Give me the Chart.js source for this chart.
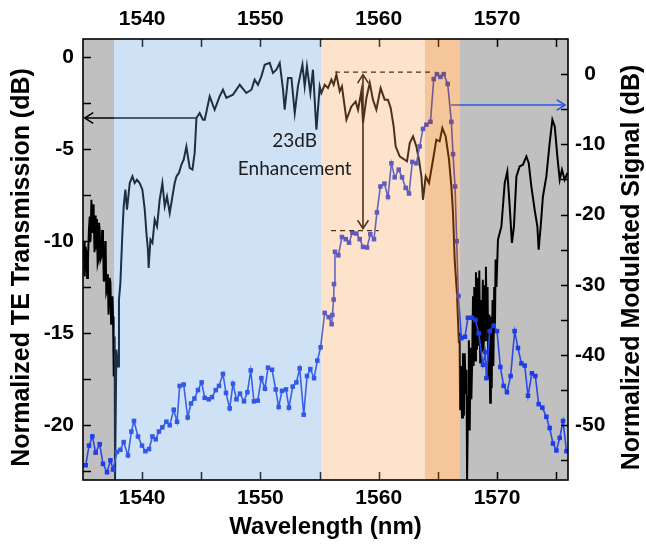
<!DOCTYPE html>
<html><head><meta charset="utf-8">
<script src="https://cdn.jsdelivr.net/npm/chart.js@4.4.1/dist/chart.umd.min.js"></script>
<style>html,body{margin:0;padding:0;background:#fff}#wrap{width:646px;height:546px;position:relative}</style>
</head><body><div id="wrap"><canvas id="c" width="646" height="546"></canvas></div>
<script>
// ---- data: normalized TE transmission (left axis, dB) ----
const teWavelength = [1535.00,1535.06,1535.10,1535.14,1535.22,1535.29,1535.35,1535.42,1535.50,1535.57,1535.64,1535.71,1535.79,1535.85,1535.90,1535.97,1536.02,1536.07,1536.12,1536.18,1536.24,1536.30,1536.35,1536.41,1536.48,1536.56,1536.62,1536.69,1536.76,1536.83,1536.88,1536.92,1536.97,1537.03,1537.10,1537.16,1537.20,1537.26,1537.32,1537.38,1537.43,1537.49,1537.54,1537.60,1537.68,1537.71,1537.82,1537.96,1538.04,1538.16,1538.33,1538.44,1538.58,1538.72,1538.95,1539.18,1539.37,1539.56,1539.79,1540.02,1540.22,1540.36,1540.49,1540.55,1540.70,1540.87,1541.06,1541.26,1541.48,1541.71,1541.91,1542.10,1542.33,1542.56,1542.75,1542.90,1543.11,1543.32,1543.51,1543.74,1544.02,1544.25,1544.44,1544.59,1544.86,1545.14,1545.29,1545.71,1546.13,1546.55,1546.83,1547.12,1547.68,1548.25,1548.81,1549.24,1549.51,1549.79,1550.08,1550.36,1550.78,1551.06,1551.35,1551.63,1551.91,1552.05,1552.33,1552.62,1552.90,1553.17,1553.55,1553.74,1553.93,1554.22,1554.44,1554.73,1555.01,1555.15,1555.43,1555.71,1556.00,1556.19,1556.42,1556.70,1556.89,1557.27,1557.69,1558.05,1558.25,1558.53,1558.67,1558.96,1559.24,1559.51,1559.80,1560.16,1560.50,1560.78,1561.01,1561.26,1561.43,1561.77,1562.19,1562.39,1562.62,1562.90,1563.18,1563.40,1563.61,1563.74,1563.97,1564.25,1564.59,1564.87,1565.15,1565.38,1565.66,1565.94,1566.14,1566.28,1566.42,1566.61,1566.78,1566.83,1566.88,1566.98,1567.04,1567.12,1567.20,1567.27,1567.35,1567.42,1567.47,1567.55,1567.62,1567.69,1567.76,1567.83,1567.90,1567.97,1568.02,1568.08,1568.15,1568.22,1568.30,1568.37,1568.45,1568.50,1568.58,1568.64,1568.72,1568.80,1568.86,1568.93,1569.00,1569.06,1569.13,1569.20,1569.27,1569.34,1569.42,1569.48,1569.55,1569.62,1569.69,1569.76,1569.82,1569.88,1569.95,1570.08,1570.37,1570.65,1570.87,1571.07,1571.26,1571.43,1571.64,1571.91,1572.19,1572.48,1572.68,1572.90,1573.18,1573.41,1573.52,1573.69,1573.88,1574.17,1574.45,1574.68,1574.88,1575.10,1575.30,1575.49,1575.72,1575.95];
const teDb = [-10.2,-11.01,-10.0,-11.92,-10.3,-10.65,-12.0,-11.01,-9.4,-8.66,-10.0,-7.75,-9.56,-8.0,-8.29,-10.6,-8.6,-10.47,-8.8,-9.20,-11.2,-11.01,-9.0,-9.38,-11.0,-10.83,-9.4,-9.92,-12.2,-11.92,-10.0,-10.47,-12.8,-12.65,-11.8,-14.0,-13.19,-12.0,-12.28,-14.5,-14.46,-13.0,-14.10,-17.37,-15.19,-23.0,-15.91,-16.82,-13.19,-12.28,-9.56,-8.11,-7.20,-8.29,-6.84,-6.48,-6.84,-6.66,-6.84,-7.20,-8.29,-9.56,-10.47,-11.46,-9.92,-10.10,-8.83,-9.20,-7.75,-6.84,-8.11,-7.57,-8.47,-7.57,-6.84,-6.48,-6.29,-5.84,-5.57,-4.86,-6.02,-6.11,-5.20,-3.30,-3.03,-3.39,-3.39,-2.12,-2.85,-2.12,-1.76,-2.21,-2.03,-1.49,-1.94,-1.76,-1.21,-1.49,-1.03,-0.40,-0.30,-0.85,-0.67,-0.30,-1.76,-2.85,-1.12,-1.12,-3.03,-1.58,-0.40,-1.58,-0.49,-1.94,-0.67,-3.94,-1.58,-1.94,-1.49,-1.67,-1.21,-1.49,-0.94,-1.85,-1.58,-3.39,-2.67,-2.40,-2.85,-1.85,-3.57,-2.21,-1.39,-2.30,-2.85,-1.67,-2.30,-2.30,-2.75,-3.76,-4.84,-5.39,-5.57,-5.66,-4.66,-4.30,-4.84,-5.57,-6.48,-7.75,-6.48,-6.84,-5.57,-4.48,-4.57,-3.84,-4.30,-5.57,-7.02,-8.47,-11.01,-12.83,-15.55,-15.0,-19.2,-16.8,-19.6,-16.1,-19.5,-16.1,-18.3,-17.0,-23.0,-18.5,-15.4,-20.3,-15.8,-18.6,-16.5,-13.0,-16.8,-12.5,-16.5,-11.7,-15.9,-12.0,-15.7,-11.6,-16.6,-13.2,-16.0,-12.1,-16.1,-12.4,-15.4,-11.4,-14.8,-12.5,-17.5,-14.0,-18.8,-14.1,-18.0,-13.2,-16.8,-12.5,-15.0,-11.0,-12.5,-9.92,-9.20,-6.84,-6.21,-8.11,-10.10,-9.20,-6.48,-5.93,-5.84,-5.39,-5.75,-7.02,-8.29,-9.20,-10.47,-9.20,-7.57,-6.48,-4.66,-3.39,-3.76,-5.39,-6.66,-6.11,-6.66,-6.29];

// ---- data: normalized modulated signal (right axis, dB) ----
const modWavelength = [1535.23,1535.51,1535.79,1536.07,1536.41,1536.69,1537.03,1537.32,1537.54,1537.87,1538.16,1538.44,1538.80,1539.09,1539.31,1539.65,1539.99,1540.27,1540.58,1540.87,1541.15,1541.42,1541.71,1542.05,1542.33,1542.67,1542.95,1543.17,1543.51,1543.85,1544.13,1544.42,1544.72,1545.03,1545.29,1545.63,1545.90,1546.22,1546.50,1546.83,1547.09,1547.40,1547.68,1547.97,1548.27,1548.61,1548.90,1549.18,1549.45,1549.77,1550.08,1550.38,1550.64,1550.98,1551.29,1551.54,1551.82,1552.16,1552.41,1552.73,1553.04,1553.32,1553.66,1553.94,1554.22,1554.53,1554.81,1555.09,1555.43,1555.77,1556.02,1556.08,1556.19,1556.22,1556.30,1556.59,1556.89,1557.21,1557.49,1557.77,1558.11,1558.39,1558.67,1559.01,1559.29,1559.60,1559.85,1560.14,1560.48,1560.78,1561.07,1561.35,1561.69,1561.97,1562.28,1562.56,1562.84,1563.18,1563.46,1563.74,1564.03,1564.37,1564.65,1564.92,1565.21,1565.49,1565.83,1566.14,1566.28,1566.45,1566.59,1566.73,1566.99,1567.29,1567.54,1567.88,1568.17,1568.45,1568.81,1569.01,1569.10,1569.38,1569.72,1570.00,1570.28,1570.56,1570.84,1571.15,1571.49,1571.77,1572.06,1572.34,1572.62,1572.95,1573.24,1573.52,1573.83,1574.17,1574.45,1574.73,1575.02,1575.30,1575.58,1575.87];
const modDb = [-55.7,-52.9,-51.6,-53.9,-52.7,-55.5,-56.7,-55.0,-56.3,-53.8,-53.5,-52.4,-54.3,-50.9,-49.4,-51.6,-52.9,-53.7,-53.4,-51.6,-52.0,-50.9,-50.3,-49.5,-50.0,-47.8,-49.5,-44.4,-44.2,-48.9,-46.9,-46.2,-45.0,-43.9,-46.1,-46.3,-46.0,-45.0,-44.4,-42.7,-45.4,-47.6,-44.1,-46.3,-45.5,-46.6,-45.3,-42.2,-46.6,-46.5,-43.3,-44.8,-41.8,-42.1,-44.9,-47.4,-45.1,-44.9,-47.5,-44.5,-43.9,-41.9,-48.5,-43.0,-42.0,-43.3,-40.8,-38.9,-34.0,-34.6,-35.6,-34.3,-32.1,-29.9,-25.3,-25.8,-23.2,-23.5,-24.0,-22.6,-22.7,-23.5,-24.6,-24.7,-22.8,-23.5,-19.7,-16.0,-15.6,-17.5,-12.7,-14.7,-13.6,-14.7,-16.2,-17.0,-12.5,-12.7,-10.3,-7.8,-7.2,-6.8,-0.7,0.0,-0.4,0.0,-1.4,-6.8,-11.4,-16.0,-23.8,-31.6,-37.6,-37.4,-34.7,-34.7,-35.0,-36.9,-41.4,-39.6,-43.3,-36.6,-35.8,-36.6,-41.7,-44.4,-45.3,-43.0,-36.6,-39.0,-41.2,-41.5,-45.8,-42.6,-43.0,-47.0,-47.5,-48.8,-50.4,-52.6,-53.6,-51.8,-49.4,-53.7];

// ---- axis ticks / labels ----
const xTickLabels = [1540, 1550, 1560, 1570];
const xTickMarks = [1540, 1545, 1550, 1555, 1560, 1565, 1570, 1575];
const leftTickLabels = [0, -5, -10, -15, -20];
const leftTickMarks = [0, -2.5, -5, -7.5, -10, -12.5, -15, -17.5, -20, -22.5];
const rightTickLabels = [0, -10, -20, -30, -40, -50];
const rightTickMarks = [0, -5, -10, -15, -20, -25, -30, -35, -40, -45, -50, -55];

// ---- wavelength bands (shaded regions) ----
const bandEdges = [1535, 1537.62, 1555.15, 1563.9, 1566.84, 1576];
const bandNames = ['gray', 'blue', 'lightOrange', 'darkOrange', 'gray'];

// ---- styling (kept apart from the data) ----
const bandStyle = {
  gray: { under: true, color: 'rgb(192,192,192)' },
  blue: { under: false, color: 'rgba(95,155,222,0.3)' },
  lightOrange: { under: false, color: 'rgba(248,162,85,0.3)' },
  darkOrange: { under: false, color: 'rgba(230,112,3,0.4)' }
};
const BOLD = '"Liberation Sans", Arial, sans-serif';
const tickFont = { family: BOLD, weight: 'bold', size: 21 };

// annotation geometry in data space
const notes = {
  blackArrow: { x1: 1544.6, x2: 1535.15, y: -3.3 },
  blueArrow: { x1: 1566.1, x2: 1575.75, y: -4.4 },
  dashTop: { x1: 1556.3, x2: 1564.6, y: -0.8 },
  dashBottom: { x1: 1555.97, x2: 1560.0, y: -9.43 },
  vArrow: { x: 1558.67, y1: -0.94, y2: -9.32 },
  text1: { x: 1552.9, y: -4.53, t: '23dB' },
  text2: { x: 1552.9, y: -6.06, t: 'Enhancement' }
};

function head(ctx, x, y, ang, len) {
  const a = Math.PI / 5.5;
  ctx.beginPath();
  ctx.moveTo(x + len * Math.cos(ang + a), y + len * Math.sin(ang + a));
  ctx.lineTo(x, y);
  ctx.lineTo(x + len * Math.cos(ang - a), y + len * Math.sin(ang - a));
  ctx.stroke();
}

const deco = {
  id: 'deco',
  beforeDatasetsDraw(chart) {
    const { ctx, chartArea: a, scales: { x } } = chart;
    ctx.save();
    for (let i = 0; i < bandNames.length; i++) {
      const st = bandStyle[bandNames[i]];
      if (!st.under) continue;
      const x1 = x.getPixelForValue(bandEdges[i]), x2 = x.getPixelForValue(bandEdges[i + 1]);
      ctx.fillStyle = st.color;
      ctx.fillRect(x1, a.top, x2 - x1, a.bottom - a.top);
    }
    ctx.restore();
  },
  afterDatasetsDraw(chart) {
    const { ctx, chartArea: a, scales: { x, y, y2 } } = chart;
    ctx.save();
    // inward tick marks
    ctx.strokeStyle = '#000';
    ctx.lineWidth = 1.5;
    ctx.beginPath();
    xTickMarks.forEach(v => {
      const p = Math.round(x.getPixelForValue(v)) + 0.5;
      ctx.moveTo(p, a.top); ctx.lineTo(p, a.top + 8);
      ctx.moveTo(p, a.bottom); ctx.lineTo(p, a.bottom - 8);
    });
    leftTickMarks.forEach(v => {
      const p = Math.round(y.getPixelForValue(v)) + 0.5;
      ctx.moveTo(a.left, p); ctx.lineTo(a.left + 8, p);
    });
    rightTickMarks.forEach(v => {
      const p = Math.round(y2.getPixelForValue(v)) + 0.5;
      ctx.moveTo(a.right, p); ctx.lineTo(a.right - 7, p);
    });
    ctx.stroke();

    // annotations
    ctx.lineCap = 'butt';
    ctx.strokeStyle = '#000';
    ctx.lineWidth = 1.6;
    let n = notes.blackArrow;
    let py = y.getPixelForValue(n.y), px1 = x.getPixelForValue(n.x1), px2 = x.getPixelForValue(n.x2);
    ctx.beginPath(); ctx.moveTo(px1, py); ctx.lineTo(px2, py); ctx.stroke();
    head(ctx, px2, py, 0, 10);

    n = notes.vArrow;
    const vx = x.getPixelForValue(n.x), vy1 = y.getPixelForValue(n.y1), vy2 = y.getPixelForValue(n.y2);
    ctx.beginPath(); ctx.moveTo(vx, vy1); ctx.lineTo(vx, vy2); ctx.stroke();
    head(ctx, vx, vy1, Math.PI / 2, 10);
    head(ctx, vx, vy2, -Math.PI / 2, 10);

    ctx.setLineDash([5, 4]);
    ctx.lineWidth = 1.4;
    [notes.dashTop, notes.dashBottom].forEach(d => {
      const yy = y.getPixelForValue(d.y);
      ctx.beginPath(); ctx.moveTo(x.getPixelForValue(d.x1), yy); ctx.lineTo(x.getPixelForValue(d.x2), yy); ctx.stroke();
    });
    ctx.setLineDash([]);

    n = notes.blueArrow;
    ctx.strokeStyle = 'rgb(45,85,235)';
    ctx.lineWidth = 1.6;
    py = y2.getPixelForValue(n.y); px1 = x.getPixelForValue(n.x1); px2 = x.getPixelForValue(n.x2);
    ctx.beginPath(); ctx.moveTo(px1, py); ctx.lineTo(px2, py); ctx.stroke();
    head(ctx, px2, py, Math.PI, 10);

    // translucent band overlays
    for (let i = 0; i < bandNames.length; i++) {
      const st = bandStyle[bandNames[i]];
      if (st.under) continue;
      const x1 = x.getPixelForValue(bandEdges[i]), x2 = x.getPixelForValue(bandEdges[i + 1]);
      ctx.fillStyle = st.color;
      ctx.fillRect(x1, a.top, x2 - x1, a.bottom - a.top);
    }

    // annotation text on top
    ctx.fillStyle = '#1c1c1c';
    ctx.font = '19px Lato, "Open Sans", sans-serif';
    ctx.textAlign = 'center';
    ctx.textBaseline = 'middle';
    [notes.text1, notes.text2].forEach(t => {
      ctx.fillText(t.t, x.getPixelForValue(t.x), y.getPixelForValue(t.y));
    });
    ctx.restore();
  },
  afterDraw(chart) {
    const { ctx, chartArea: a } = chart;
    ctx.save();
    ctx.strokeStyle = '#000';
    ctx.lineWidth = 1.6;
    ctx.strokeRect(a.left, a.top, a.right - a.left, a.bottom - a.top);
    // vertical axis titles (reading bottom to top)
    ctx.fillStyle = '#000';
    ctx.font = 'bold 25px ' + BOLD;
    ctx.textAlign = 'center';
    ctx.textBaseline = 'middle';
    const cy = (a.top + a.bottom) / 2 + 8;
    ctx.translate(22, cy); ctx.rotate(-Math.PI / 2);
    ctx.fillText('Normalized TE Transmission (dB)', 0, 0);
    ctx.setTransform(1, 0, 0, 1, 0, 0);
    ctx.translate(632, cy); ctx.rotate(-Math.PI / 2);
    ctx.fillText('Normalized Modulated Signal (dB)', 0, 0);
    ctx.restore();
  }
};

const setTicks = list => scale => { scale.ticks = list.map(v => ({ value: v })); };
const plain = v => String(v);

new Chart(document.getElementById('c'), {
  type: 'line',
  data: {
    datasets: [
      {
        label: 'Normalized Modulated Signal',
        data: modWavelength.map((w, i) => ({ x: w, y: modDb[i] })),
        yAxisID: 'y2',
        borderColor: 'rgb(40,72,235)',
        borderWidth: 1.6,
        pointStyle: 'rect',
        pointRadius: 3.2,
        pointBorderWidth: 0,
        pointBackgroundColor: 'rgb(30,60,235)',
        tension: 0
      },
      {
        label: 'Normalized TE Transmission',
        data: teWavelength.map((w, i) => ({ x: w, y: teDb[i] })),
        yAxisID: 'y',
        borderColor: '#000',
        borderWidth: 2,
        pointRadius: 0,
        tension: 0
      }
    ]
  },
  options: {
    responsive: false,
    animation: false,
    devicePixelRatio: 1,
    layout: { padding: 0 },
    plugins: { legend: { display: false }, tooltip: { enabled: false } },
    scales: {
      x: {
        type: 'linear', position: 'bottom', min: 1535, max: 1576,
        afterBuildTicks: setTicks(xTickLabels),
        afterFit: s => { s.height = 66; },
        grid: { display: false, drawTicks: false },
        border: { display: false },
        ticks: { font: tickFont, color: '#000', padding: 6, maxRotation: 0, callback: plain },
        title: { display: true, text: 'Wavelength (nm)', color: '#000', font: { family: BOLD, weight: 'bold', size: 24 }, padding: { top: 0, bottom: 4 } }
      },
      x2: {
        type: 'linear', position: 'top', min: 1535, max: 1576,
        afterBuildTicks: setTicks(xTickLabels),
        afterFit: s => { s.height = 39; },
        grid: { display: false, drawTicks: false },
        border: { display: false },
        ticks: { font: tickFont, color: '#000', padding: 7, maxRotation: 0, callback: plain }
      },
      y: {
        type: 'linear', position: 'left', min: -23, max: 1,
        afterBuildTicks: setTicks(leftTickLabels),
        afterFit: s => { s.width = 83; },
        grid: { display: false, drawTicks: false },
        border: { display: false },
        ticks: { font: tickFont, color: '#000', padding: 9, callback: plain }
      },
      y2: {
        type: 'linear', position: 'right', min: -57.8, max: 5,
        afterBuildTicks: setTicks(rightTickLabels),
        afterFit: s => { s.width = 78; },
        grid: { display: false, drawTicks: false },
        border: { display: false },
        ticks: { font: tickFont, color: '#000', padding: 7, crossAlign: 'center', callback: plain }
      }
    }
  },
  plugins: [deco]
});
</script>
</body></html>
